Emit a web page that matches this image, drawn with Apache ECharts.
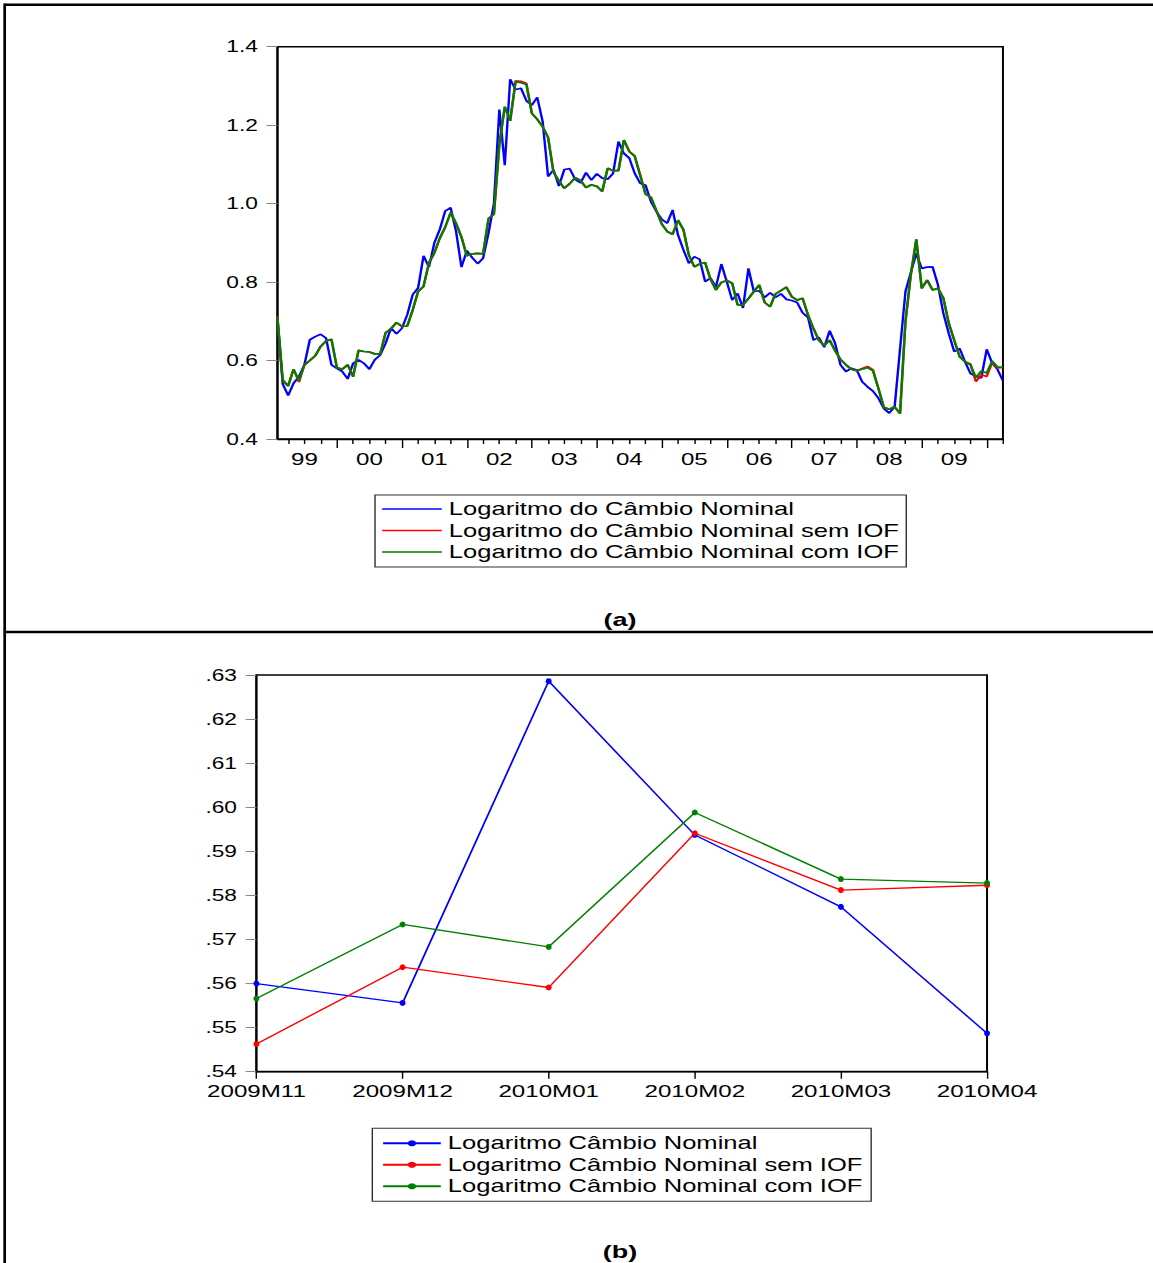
<!DOCTYPE html>
<html>
<head>
<meta charset="utf-8">
<script src="https://cdn.jsdelivr.net/npm/echarts@6/dist/echarts.min.js"></script>
<style>
  html, body { margin: 0; padding: 0; background: #fff; overflow: hidden; }
  /* the source picture is stretched sideways, so the chart is drawn narrow and widened */
  #chart { width: 812px; height: 1263px; transform: scaleX(1.42); transform-origin: 0 0; }
</style>
</head>
<body>
<div id="chart"></div>
<script>
// (a) monthly series, 1999M02 .. 2010M04
const blueA = [
  0.712, 0.540, 0.511, 0.542, 0.559, 0.589, 0.653, 0.661, 0.667, 0.657, 0.589,
  0.580, 0.572, 0.553, 0.593, 0.602, 0.593, 0.578, 0.602, 0.614, 0.644, 0.683, 0.668,
  0.682, 0.717, 0.768, 0.785, 0.867, 0.838, 0.900, 0.934, 0.981, 0.990, 0.930, 0.838,
  0.880, 0.862, 0.847, 0.861, 0.925, 1.000, 1.240, 1.098, 1.317, 1.291, 1.294, 1.262,
  1.251, 1.271, 1.209, 1.069, 1.086, 1.045, 1.087, 1.089, 1.062, 1.053, 1.079, 1.060,
  1.076, 1.065, 1.062, 1.077, 1.158, 1.128, 1.116, 1.077, 1.052, 1.047, 1.005, 0.980,
  0.960, 0.950, 0.984, 0.920, 0.882, 0.848, 0.865, 0.858, 0.801, 0.810, 0.788, 0.846,
  0.801, 0.754, 0.771, 0.734, 0.835, 0.776, 0.778, 0.761, 0.773, 0.761, 0.770, 0.756,
  0.753, 0.748, 0.722, 0.710, 0.652, 0.659, 0.634, 0.676, 0.644, 0.589, 0.572, 0.580,
  0.576, 0.546, 0.533, 0.522, 0.504, 0.478, 0.466, 0.482, 0.630, 0.776, 0.825, 0.873,
  0.835, 0.838, 0.839, 0.793, 0.720, 0.669, 0.623, 0.631, 0.597, 0.567, 0.560, 0.5556,
  0.6286, 0.5937, 0.5774, 0.5487
]
const redA = [
  0.712, 0.548, 0.535, 0.578, 0.545, 0.589, 0.600, 0.612, 0.636, 0.650, 0.654,
  0.582, 0.578, 0.589, 0.559, 0.626, 0.623, 0.622, 0.617, 0.617, 0.671, 0.681, 0.697,
  0.687, 0.688, 0.729, 0.776, 0.789, 0.849, 0.874, 0.912, 0.940, 0.977, 0.950, 0.915,
  0.867, 0.872, 0.873, 0.872, 0.962, 0.973, 1.150, 1.247, 1.211, 1.313, 1.312, 1.306,
  1.230, 1.215, 1.196, 1.169, 1.080, 1.058, 1.039, 1.051, 1.066, 1.059, 1.041, 1.048,
  1.044, 1.031, 1.090, 1.084, 1.084, 1.162, 1.133, 1.121, 1.073, 1.024, 1.016, 0.982,
  0.948, 0.929, 0.922, 0.958, 0.933, 0.869, 0.839, 0.846, 0.850, 0.807, 0.780, 0.799,
  0.804, 0.797, 0.742, 0.742, 0.758, 0.776, 0.793, 0.748, 0.737, 0.770, 0.778, 0.787,
  0.763, 0.754, 0.759, 0.716, 0.682, 0.652, 0.638, 0.652, 0.625, 0.603, 0.589, 0.578,
  0.574, 0.580, 0.585, 0.576, 0.529, 0.481, 0.476, 0.482, 0.465, 0.700, 0.820, 0.909,
  0.784, 0.805, 0.780, 0.784, 0.759, 0.695, 0.652, 0.610, 0.597, 0.591, 0.5463, 0.5637,
  0.5591, 0.5941, 0.5812, 0.5823
]
const greenA = [
  0.712, 0.551, 0.535, 0.578, 0.549, 0.589, 0.600, 0.612, 0.636, 0.650, 0.654,
  0.582, 0.578, 0.589, 0.559, 0.626, 0.623, 0.622, 0.617, 0.617, 0.671, 0.681, 0.697,
  0.687, 0.688, 0.729, 0.776, 0.789, 0.849, 0.874, 0.912, 0.940, 0.977, 0.950, 0.915,
  0.867, 0.872, 0.873, 0.872, 0.962, 0.973, 1.150, 1.247, 1.211, 1.311, 1.308, 1.304,
  1.230, 1.215, 1.196, 1.169, 1.080, 1.058, 1.039, 1.051, 1.066, 1.059, 1.041, 1.048,
  1.044, 1.031, 1.090, 1.084, 1.084, 1.162, 1.133, 1.121, 1.073, 1.024, 1.016, 0.982,
  0.948, 0.929, 0.922, 0.958, 0.933, 0.869, 0.839, 0.846, 0.850, 0.807, 0.780, 0.799,
  0.804, 0.797, 0.742, 0.742, 0.758, 0.776, 0.793, 0.748, 0.737, 0.770, 0.778, 0.787,
  0.763, 0.754, 0.759, 0.716, 0.682, 0.652, 0.638, 0.652, 0.625, 0.603, 0.589, 0.578,
  0.574, 0.578, 0.582, 0.574, 0.529, 0.481, 0.476, 0.482, 0.465, 0.700, 0.820, 0.909,
  0.784, 0.805, 0.780, 0.784, 0.759, 0.695, 0.652, 0.610, 0.597, 0.589, 0.5566, 0.5734,
  0.5683, 0.5988, 0.5837, 0.5828
]

// (b) last six months
const monthsB = ['2009M11', '2009M12', '2010M01', '2010M02', '2010M03', '2010M04']
const blueB = [0.5600, 0.5556, 0.6286, 0.5937, 0.5774, 0.5487]
const redB = [0.5463, 0.5637, 0.5591, 0.5941, 0.5812, 0.5823]
const greenB = [0.5566, 0.5734, 0.5683, 0.5988, 0.5837, 0.5828]

const namesA = [
  'Logaritmo do Câmbio Nominal',
  'Logaritmo do Câmbio Nominal sem IOF',
  'Logaritmo do Câmbio Nominal com IOF'
]
const namesB = [
  'Logaritmo Câmbio Nominal',
  'Logaritmo Câmbio Nominal sem IOF',
  'Logaritmo Câmbio Nominal com IOF'
]
const colors = ['#0000ff', '#ff0000', '#008000']

// month labels 1999M02 .. 2010M04
const monthsA = []
for (let k = 0; k < blueA.length; k++) {
  const mm = 1 + k
  const year = 1999 + Math.floor(mm / 12)
  const month = (mm % 12) + 1
  monthsA.push(year + 'M' + (month < 10 ? '0' : '') + month)
}

const FONT = 'Liberation Sans, Arial, sans-serif'

const chart = echarts.init(document.getElementById('chart'), null, { renderer: 'svg' })

const yAxisBase = {
  type: 'value',
  axisLine: { show: true, lineStyle: { color: '#000', width: 1.4 } },
  axisTick: { show: true, length: 7.7, lineStyle: { color: '#888', width: 1 } },
  splitLine: { show: false },
  axisLabel: { color: '#000', fontSize: 16, fontFamily: FONT, margin: 13.7 }
}

const option = {
  backgroundColor: '#fff',
  animation: false,
  grid: [
    { left: 195.3, top: 46.7, width: 511, height: 392.3, show: true, borderColor: '#000', borderWidth: 1.4 },
    { left: 180.6, top: 675, width: 514.5, height: 396.7, show: true, borderColor: '#000', borderWidth: 1.4 }
  ],
  xAxis: [
    {
      // year ticks and labels
      gridIndex: 0,
      type: 'category',
      data: monthsA,
      boundaryGap: false,
      position: 'bottom',
      axisLine: { lineStyle: { color: '#000', width: 1.4 } },
      axisTick: {
        interval: (i, v) => v.endsWith('M01'),
        length: 9,
        lineStyle: { color: '#000', width: 1 }
      },
      axisLabel: {
        interval: (i, v) => v.endsWith('M07'),
        formatter: v => v.slice(2, 4),
        color: '#000',
        fontSize: 17,
        fontFamily: FONT,
        margin: 11
      },
      splitLine: { show: false }
    },
    {
      // quarter ticks
      gridIndex: 0,
      type: 'category',
      data: monthsA,
      boundaryGap: false,
      position: 'bottom',
      axisLine: { show: false },
      axisTick: {
        interval: (i, v) => /M(04|07|10)$/.test(v),
        length: 5,
        lineStyle: { color: '#000', width: 1 }
      },
      axisLabel: { show: false },
      splitLine: { show: false }
    },
    {
      gridIndex: 1,
      type: 'category',
      data: monthsB,
      boundaryGap: false,
      axisLine: { lineStyle: { color: '#000', width: 1.4 } },
      axisTick: { interval: 0, length: 7, lineStyle: { color: '#000', width: 1 } },
      axisLabel: { interval: 0, color: '#000', fontSize: 17, fontFamily: FONT, margin: 11 },
      splitLine: { show: false }
    }
  ],
  yAxis: [
    Object.assign({}, yAxisBase, {
      gridIndex: 0,
      min: 0.4,
      max: 1.4,
      interval: 0.2,
      axisLabel: Object.assign({}, yAxisBase.axisLabel, { formatter: v => v.toFixed(1) })
    }),
    Object.assign({}, yAxisBase, {
      gridIndex: 1,
      min: 0.54,
      max: 0.63,
      interval: 0.01,
      axisLabel: Object.assign({}, yAxisBase.axisLabel, {
        formatter: v => v.toFixed(2).replace(/^0/, '')
      })
    })
  ],
  legend: [
    {
      data: namesA,
      orient: 'vertical',
      left: 264.1,
      top: 495,
      icon: 'rect',
      itemWidth: 42,
      itemHeight: 1.6,
      itemGap: 3.5,
      padding: [5, 5, 6, 5],
      borderColor: '#333',
      borderWidth: 1,
      selectedMode: false,
      textStyle: { color: '#000', fontSize: 18, lineHeight: 18, fontFamily: FONT }
    },
    {
      data: namesB,
      orient: 'vertical',
      left: 262.2,
      top: 1128.3,
      itemWidth: 40.6,
      itemHeight: 7.5,
      itemGap: 3.5,
      padding: [6, 6, 6, 6.6],
      borderColor: '#333',
      borderWidth: 1,
      selectedMode: false,
      textStyle: { color: '#000', fontSize: 18, lineHeight: 18, fontFamily: FONT }
    }
  ],
  series: [
    ...[blueA, redA, greenA].map((d, k) => ({
      name: namesA[k],
      type: 'line',
      xAxisIndex: 0,
      yAxisIndex: 0,
      data: d,
      symbol: 'none',
      color: colors[k],
      lineStyle: { color: colors[k], width: 1.7 }
    })),
    ...[blueB, redB, greenB].map((d, k) => ({
      name: namesB[k],
      type: 'line',
      xAxisIndex: 2,
      yAxisIndex: 1,
      data: d,
      symbol: 'circle',
      symbolSize: [4.2, 6],
      color: colors[k],
      lineStyle: { color: colors[k], width: 1.3 }
    }))
  ],
  graphic: [
    { type: 'line', shape: { x1: 3.3, y1: 4.7, x2: 812, y2: 4.7 }, style: { stroke: '#000', lineWidth: 2.6 } },
    { type: 'line', shape: { x1: 3.3, y1: 3.4, x2: 3.3, y2: 1263 }, style: { stroke: '#000', lineWidth: 1.9 } },
    { type: 'line', shape: { x1: 3.3, y1: 632, x2: 812, y2: 632 }, style: { stroke: '#000', lineWidth: 2.4 } },
    {
      type: 'text', x: 436.6, y: 619,
      style: { text: '(a)', fill: '#000', font: 'bold 19px ' + FONT, align: 'center', verticalAlign: 'middle' }
    },
    {
      type: 'text', x: 436.6, y: 1251,
      style: { text: '(b)', fill: '#000', font: 'bold 19px ' + FONT, align: 'center', verticalAlign: 'middle' }
    }
  ]
}

chart.setOption(option)
</script>
</body>
</html>
